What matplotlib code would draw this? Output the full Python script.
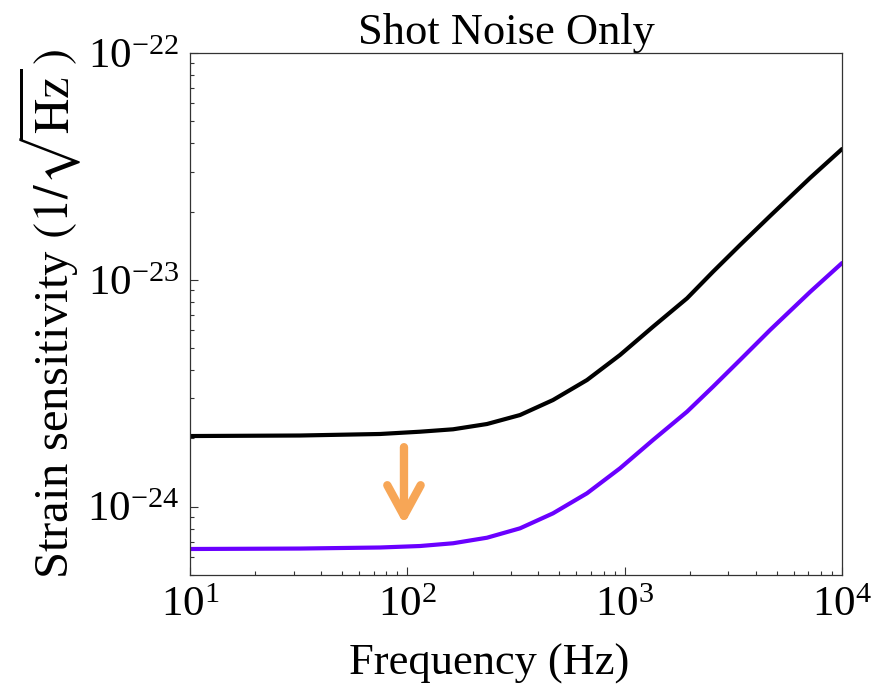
import matplotlib
matplotlib.use("Agg")
import matplotlib.pyplot as plt
from matplotlib import ticker

# --- data ---
freq_black = [10, 32.1, 74.9, 114.4, 162.3, 232.6, 330, 468, 671, 952, 1350, 1936,
              2550, 3395, 4666, 7127, 10000]
strain_black = [2.049e-24, 2.060e-24, 2.092e-24, 2.141e-24, 2.194e-24, 2.315e-24,
                2.536e-24, 2.953e-24, 3.618e-24, 4.665e-24, 6.214e-24, 8.291e-24,
                1.086e-23, 1.424e-23, 1.912e-23, 2.812e-23, 3.773e-23]

freq_purple = [10, 32.1, 74.9, 114.4, 162.3, 232.6, 330, 468, 671, 952, 1350, 1936,
               2550, 3395, 4666, 7127, 10000]
strain_purple = [6.51e-25, 6.54e-25, 6.61e-25, 6.71e-25, 6.90e-25, 7.30e-25,
                 8.03e-25, 9.35e-25, 1.146e-24, 1.477e-24, 1.968e-24, 2.623e-24,
                 3.381e-24, 4.434e-24, 6.009e-24, 8.84e-24, 1.186e-23]

arrow_freq = 96.5
arrow_from = 1.83e-24
arrow_to = 8.35e-25

x_ticks = [10, 100, 1000, 10000]
y_ticks = [1e-24, 1e-23, 1e-22]

title = "Shot Noise Only"
xlabel = "Frequency (Hz)"
ylabel = r"Strain sensitivity $(1/\sqrt{\mathrm{Hz}}\,)$"

plt.rcParams['font.family'] = ['Liberation Serif', 'DejaVu Serif']
plt.rcParams['mathtext.fontset'] = 'stix'

fig = plt.figure(figsize=(8.82, 6.88), dpi=100)
ax = fig.add_axes([190/882, 1-575/688, (842-190)/882, (575-53)/688])

ax.plot(freq_black, strain_black, color='black', lw=3.0,
        solid_capstyle='round', solid_joinstyle='round')
ax.plot(freq_purple, strain_purple, color='#6A00FF', lw=3.0,
        solid_capstyle='round', solid_joinstyle='round')

ax.annotate('', xy=(arrow_freq, arrow_to), xytext=(arrow_freq, arrow_from),
            arrowprops=dict(arrowstyle='->,head_length=2.2,head_width=1.2',
                            lw=6, color='#F7A656', shrinkA=0, shrinkB=0,
                            capstyle='round', joinstyle='round'))

ax.set_xscale('log')
ax.set_yscale('log')
ax.set_xlim(10, 1e4)
ax.set_ylim(5e-25, 1e-22)

ax.xaxis.set_major_locator(ticker.FixedLocator(x_ticks))
ax.yaxis.set_major_locator(ticker.FixedLocator(y_ticks))
ax.xaxis.set_minor_locator(ticker.LogLocator(base=10, subs=range(2, 10), numticks=20))
ax.yaxis.set_minor_locator(ticker.LogLocator(base=10, subs=range(2, 10), numticks=20))
ax.xaxis.set_major_formatter(ticker.LogFormatterMathtext())
ax.yaxis.set_major_formatter(ticker.LogFormatterMathtext())
ax.xaxis.set_minor_formatter(ticker.NullFormatter())
ax.yaxis.set_minor_formatter(ticker.NullFormatter())

ax.tick_params(which='both', direction='in', top=False, right=False, width=0.8, color='#333333')
ax.tick_params(which='major', length=5.5, labelsize=31, pad=8)
ax.tick_params(which='minor', length=3)
for s in ax.spines.values():
    s.set_linewidth(0.9)
    s.set_color('#333333')

ax.set_title(title, fontsize=32, pad=4, x=0.486)
ax.set_xlabel(xlabel, fontsize=32, labelpad=14, x=0.459)
ax.set_ylabel(ylabel, fontsize=35, labelpad=2)

fig.savefig('out.png', dpi=100)
